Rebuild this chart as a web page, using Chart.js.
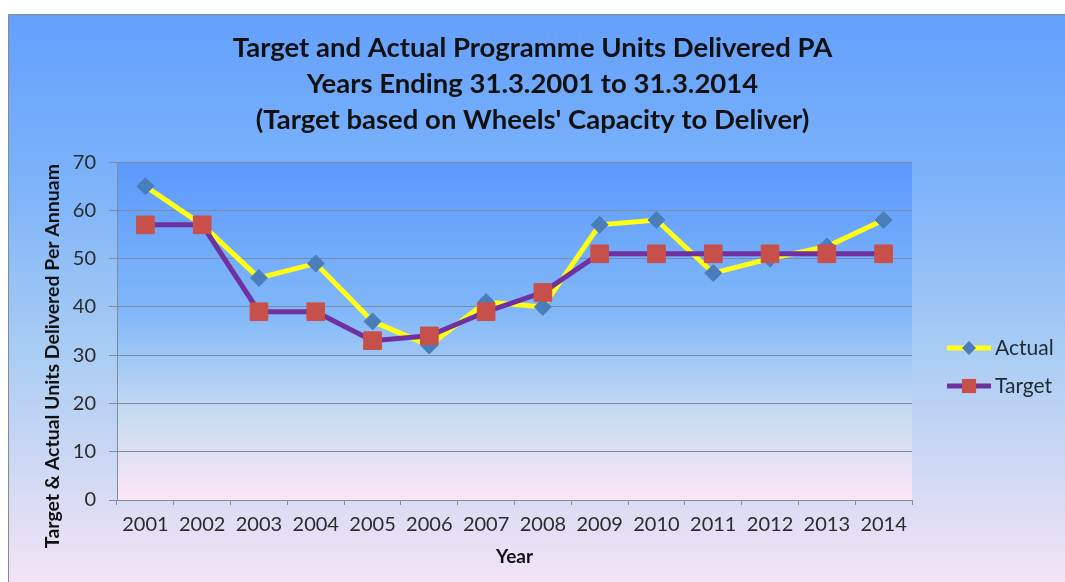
<!DOCTYPE html>
<html>
<head>
<meta charset="utf-8">
<title>Programme Units Delivered</title>
<script src="https://cdn.jsdelivr.net/npm/chart.js@4.4.1/dist/chart.umd.min.js"></script>
<style>
  html, body { margin: 0; padding: 0; background: #fff; overflow: hidden; }
  #wrap { position: relative; width: 1065px; height: 582px; }
</style>
</head>
<body>
<div id="wrap"><canvas id="unitsChart"></canvas></div>
<script>
'use strict';

// ===== DATA =====
const YEARS = ['2001','2002','2003','2004','2005','2006','2007','2008','2009','2010','2011','2012','2013','2014'];
const ACTUAL = [65, 57, 46, 49, 37, 32, 41, 40, 57, 58, 47, 50, 52.5, 58];
const TARGET = [57, 57, 39, 39, 33, 34, 39, 43, 51, 51, 51, 51, 51, 51];
const Y_MIN = 0;
const Y_MAX = 70;
const Y_STEP = 10;
const TITLE_LINES = [
  'Target and Actual Programme Units Delivered PA',
  'Years Ending 31.3.2001 to 31.3.2014',
  "(Target based on Wheels' Capacity to Deliver)"
];
const Y_TITLE = 'Target & Actual Units Delivered Per Annuam';
const X_TITLE = 'Year';

const FONT = 'Lato, "Open Sans", sans-serif';
const GRID = '#7d8ca0';

// ===== BACKGROUND (outer frame + plot area gradients) =====
const backdrop = {
  id: 'backdrop',
  beforeDraw(chart) {
    const { ctx, width, height, chartArea: a } = chart;
    ctx.save();
    ctx.fillStyle = '#ffffff';
    ctx.fillRect(0, 0, width, height);

    const fx = 8, fy = 14;
    const outer = ctx.createLinearGradient(0, fy, 0, height);
    outer.addColorStop(0, '#63a0fc');
    outer.addColorStop(0.3, '#7cb3f9');
    outer.addColorStop(0.6, '#aacdf3');
    outer.addColorStop(1, '#f3e4f5');
    ctx.fillStyle = outer;
    ctx.fillRect(fx, fy, width - fx, height - fy);
    ctx.strokeStyle = '#8a8a8a';
    ctx.lineWidth = 1;
    ctx.beginPath();
    ctx.moveTo(fx + 0.5, height);
    ctx.lineTo(fx + 0.5, fy + 0.5);
    ctx.lineTo(width, fy + 0.5);
    ctx.stroke();

    const inner = ctx.createLinearGradient(0, a.top, 0, a.bottom);
    inner.addColorStop(0, '#5b99fd');
    inner.addColorStop(0.45, '#82b8f8');
    inner.addColorStop(0.75, '#c8dcf1');
    inner.addColorStop(1, '#fde6f5');
    ctx.fillStyle = inner;
    ctx.fillRect(a.left, a.top, a.right - a.left, a.bottom - a.top);
    ctx.restore();
  }
};

// ===== Y AXIS TITLE (sits a little below the plot's middle) =====
const yTitle = {
  id: 'yTitle',
  afterDraw(chart) {
    const { ctx, chartArea: a } = chart;
    ctx.save();
    ctx.translate(53, (a.top + a.bottom) / 2 + 25);
    ctx.rotate(-Math.PI / 2);
    ctx.fillStyle = '#111';
    ctx.font = 'bold 19.5px ' + FONT;
    ctx.textAlign = 'center';
    ctx.textBaseline = 'middle';
    ctx.fillText(Y_TITLE, 0, 0);
    ctx.restore();
  }
};

// ===== LEGEND (line + marker swatches at right) =====
function drawMarker(ctx, style, x, y, r, color) {
  ctx.fillStyle = color;
  ctx.beginPath();
  if (style === 'rectRot') {
    ctx.moveTo(x - r, y);
    ctx.lineTo(x, y - r);
    ctx.lineTo(x + r, y);
    ctx.lineTo(x, y + r);
    ctx.closePath();
  } else {
    const s = r * Math.SQRT1_2;
    ctx.rect(x - s, y - s, 2 * s, 2 * s);
  }
  ctx.fill();
}

const sideLegend = {
  id: 'sideLegend',
  afterDraw(chart) {
    const { ctx, chartArea: a } = chart;
    const x0 = a.right + 35;
    const mid = (a.top + a.bottom) / 2 + 36;
    const rows = chart.data.datasets.slice().sort((p, q) => p.legendIndex - q.legendIndex);
    ctx.save();
    rows.forEach((ds, i) => {
      const y = mid + (i - 0.5) * 38;
      ctx.strokeStyle = ds.borderColor;
      ctx.lineWidth = 5;
      ctx.beginPath();
      ctx.moveTo(x0, y);
      ctx.lineTo(x0 + 44, y);
      ctx.stroke();
      drawMarker(ctx, ds.pointStyle, x0 + 22, y, ds.pointStyle === 'rectRot' ? 7 : 10, ds.pointBackgroundColor);
      ctx.fillStyle = '#1f2a36';
      ctx.font = '21px ' + FONT;
      ctx.textAlign = 'left';
      ctx.textBaseline = 'middle';
      ctx.fillText(ds.label, x0 + 48, y);
    });
    ctx.restore();
  }
};

// ===== CHART =====
const ctx = document.getElementById('unitsChart');
new Chart(ctx, {
  type: 'line',
  data: {
    labels: YEARS,
    datasets: [
      {
        label: 'Actual',
        legendIndex: 0,
        order: 2,
        data: ACTUAL,
        borderColor: '#ffff14',
        borderWidth: 5,
        tension: 0,
        pointStyle: 'rectRot',
        pointRadius: 8.5,
        pointHoverRadius: 8.5,
        pointBackgroundColor: '#4a7ebb',
        pointBorderColor: '#4a7ebb',
        pointBorderWidth: 1
      },
      {
        label: 'Target',
        legendIndex: 1,
        order: 1,
        data: TARGET,
        borderColor: '#7030a0',
        borderWidth: 5,
        tension: 0,
        pointStyle: 'rect',
        pointRadius: 12.5,
        pointHoverRadius: 12.5,
        pointBackgroundColor: '#c8504b',
        pointBorderColor: '#c8504b',
        pointBorderWidth: 1
      }
    ]
  },
  options: {
    responsive: true,
    maintainAspectRatio: false,
    animation: false,
    layout: { padding: 0 },
    plugins: {
      legend: { display: false },
      tooltip: { enabled: false },
      title: {
        display: true,
        text: TITLE_LINES,
        color: '#111',
        font: { family: FONT, size: 27.5, weight: 'bold', lineHeight: 1.31 },
        padding: { top: 30, bottom: 24 }
      }
    },
    scales: {
      x: {
        offset: true,
        afterFit: s => { s.height = 82; },
        grid: { offset: true, drawOnChartArea: false, color: GRID, tickLength: 5 },
        border: { display: true, color: GRID, width: 1 },
        ticks: { color: '#2b2b2b', padding: 8, maxRotation: 0, autoSkip: false, font: { family: FONT, size: 20 } },
        title: {
          display: true,
          text: X_TITLE,
          color: '#111',
          font: { family: FONT, size: 19, weight: 'bold' },
          padding: { top: 0, bottom: 14 }
        }
      },
      y: {
        min: Y_MIN,
        max: Y_MAX,
        afterFit: s => { s.width = 117; },
        grid: { color: GRID, tickLength: 8 },
        border: { display: true, color: GRID, width: 1 },
        ticks: { stepSize: Y_STEP, color: '#2b2b2b', padding: 13, font: { family: FONT, size: 20 } }
      },
      // empty strip on the right that holds the legend
      side: {
        type: 'linear',
        position: 'right',
        afterFit: s => { s.width = 153; },
        grid: { display: false },
        border: { display: false },
        ticks: { display: false }
      }
    }
  },
  plugins: [backdrop, yTitle, sideLegend]
});
</script>
</body>
</html>
